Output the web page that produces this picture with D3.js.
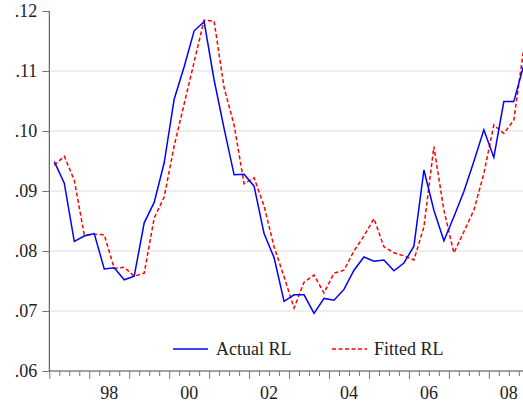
<!DOCTYPE html>
<html>
<head>
<meta charset="utf-8">
<script src="https://cdnjs.cloudflare.com/ajax/libs/d3/7.8.5/d3.min.js"></script>
<style>
  body { margin: 0; background: #fff; }
  text { font-family: "Liberation Serif", "Times New Roman", serif; fill: #222; }
</style>
</head>
<body>
<svg id="chart" width="523" height="409"></svg>
<script>
// quarterly data 1997Q1 - 2008Q4
var startYear = 1997;
var actualRL = [
    .0949, .0913, .0816, .0825,
    .0829, .0770, .0772, .0752,
    .0758, .0847, .0881, .0947,
    .1053, .1107, .1167, .1182,
    .1085, .1004, .0927, .0928,
    .0908, .0829, .0789, .0716,
    .0727, .0727, .0696, .0721,
    .0718, .0736, .0768, .0790,
    .0783, .0785, .0767, .0780,
    .0808, .0935, .0868, .0817,
    .0857, .0899, .0949, .1002,
    .0956, .1049, .1049, .1110
];
var fittedRL = [
    .0943, .0958, .0918, .0827,
    .0828, .0827, .0771, .0773,
    .0758, .0763, .0855, .0890,
    .0975, .1045, .1115, .1185,
    .1183, .1072, .1010, .0912,
    .0922, .0875, .0807, .0757,
    .0705, .0748, .0760, .0730,
    .0763, .0768, .0800, .0825,
    .0854, .0807, .0797, .0792,
    .0785, .0840, .0974, .0868,
    .0797, .0832, .0868, .0929,
    .1010, .0996, .1018, .1138
];
var yTicks = [.06, .07, .08, .09, .10, .11, .12];
var yearLabels = [1998, 2000, 2002, 2004, 2006, 2008];
var seriesNames = ["Actual RL", "Fitted RL"];

var svg = d3.select("#chart");
var plotLeft = 49.3, plotRight = 523, plotTop = 11, plotBottom = 371;

var x = d3.scaleLinear().domain([1997, 2009]).range([plotLeft, plotLeft + 479.5]);
var y = d3.scaleLinear().domain([.06, .12]).range([plotBottom, plotTop]);

var toTime = function(i) {
    return startYear + i / 4 + 0.125;
};

// grid
svg.append("g").selectAll("line")
    .data(yTicks.filter(function(d) { return d > .065 && d < .115; }))
  .enter()
    .append("line")
    .attr("x1", plotLeft).attr("x2", plotRight)
    .attr("y1", function(d) { return y(d); })
    .attr("y2", function(d) { return y(d); })
    .attr("stroke", "#dcdcdc").attr("stroke-width", 1);

// y axis
var yAxis = svg.append("g")
    .attr("transform", "translate(" + plotLeft + ",0)")
    .call(d3.axisLeft(y).tickValues(yTicks).tickSize(7).tickPadding(5)
        .tickFormat(function(d) { return d3.format(".2f")(d).replace(/^0/, ""); }));
yAxis.select(".domain").attr("stroke", "#444").attr("d", "M0," + plotTop + "V" + plotBottom);
yAxis.selectAll(".tick line").attr("stroke", "#777");
yAxis.selectAll(".tick text").style("font-size", "18px").attr("fill", "#222");

// x axis: quarter ticks, year ticks longer
var quarterTicks = d3.range(0, 48).map(function(i) { return startYear + i / 4; });
var xAxis = svg.append("g")
    .attr("transform", "translate(0," + plotBottom + ")")
    .call(d3.axisBottom(x).tickValues(quarterTicks).tickSize(5).tickFormat(""));
xAxis.select(".domain").attr("stroke", "#444").attr("d", "M" + plotLeft + ",0H" + plotRight);
xAxis.selectAll(".tick line")
    .attr("stroke", "#777")
    .attr("y2", function(d) { return Math.abs(d - Math.round(d)) < 1e-6 ? 8 : 5; });

svg.append("g").selectAll("text")
    .data(yearLabels)
  .enter()
    .append("text")
    .attr("x", function(d) { return x(d + 0.5); })
    .attr("y", 399)
    .attr("text-anchor", "middle")
    .style("font-size", "18px")
    .text(function(d) { return String(d).slice(2); });

// lines
var line = d3.line()
    .x(function(d, i) { return x(toTime(i)); })
    .y(function(d) { return y(d); });

var plot = svg.append("g");
plot.append("path").datum(fittedRL)
    .attr("d", line).attr("fill", "none")
    .attr("stroke", "#ff0000").attr("stroke-width", 1.5)
    .attr("stroke-dasharray", "4,2.5");
plot.append("path").datum(actualRL)
    .attr("d", line).attr("fill", "none")
    .attr("stroke", "#0000ff").attr("stroke-width", 1.5);

// legend
var legend = svg.append("g");
legend.append("line")
    .attr("x1", 173).attr("x2", 208).attr("y1", 349).attr("y2", 349)
    .attr("stroke", "#0000ff").attr("stroke-width", 1.5);
legend.append("text").attr("x", 216).attr("y", 355)
    .style("font-size", "18px").text(seriesNames[0]);
legend.append("line")
    .attr("x1", 332).attr("x2", 367).attr("y1", 349).attr("y2", 349)
    .attr("stroke", "#ff0000").attr("stroke-width", 1.5)
    .attr("stroke-dasharray", "4,2.5");
legend.append("text").attr("x", 374).attr("y", 355)
    .style("font-size", "18px").text(seriesNames[1]);
</script>
</body>
</html>
